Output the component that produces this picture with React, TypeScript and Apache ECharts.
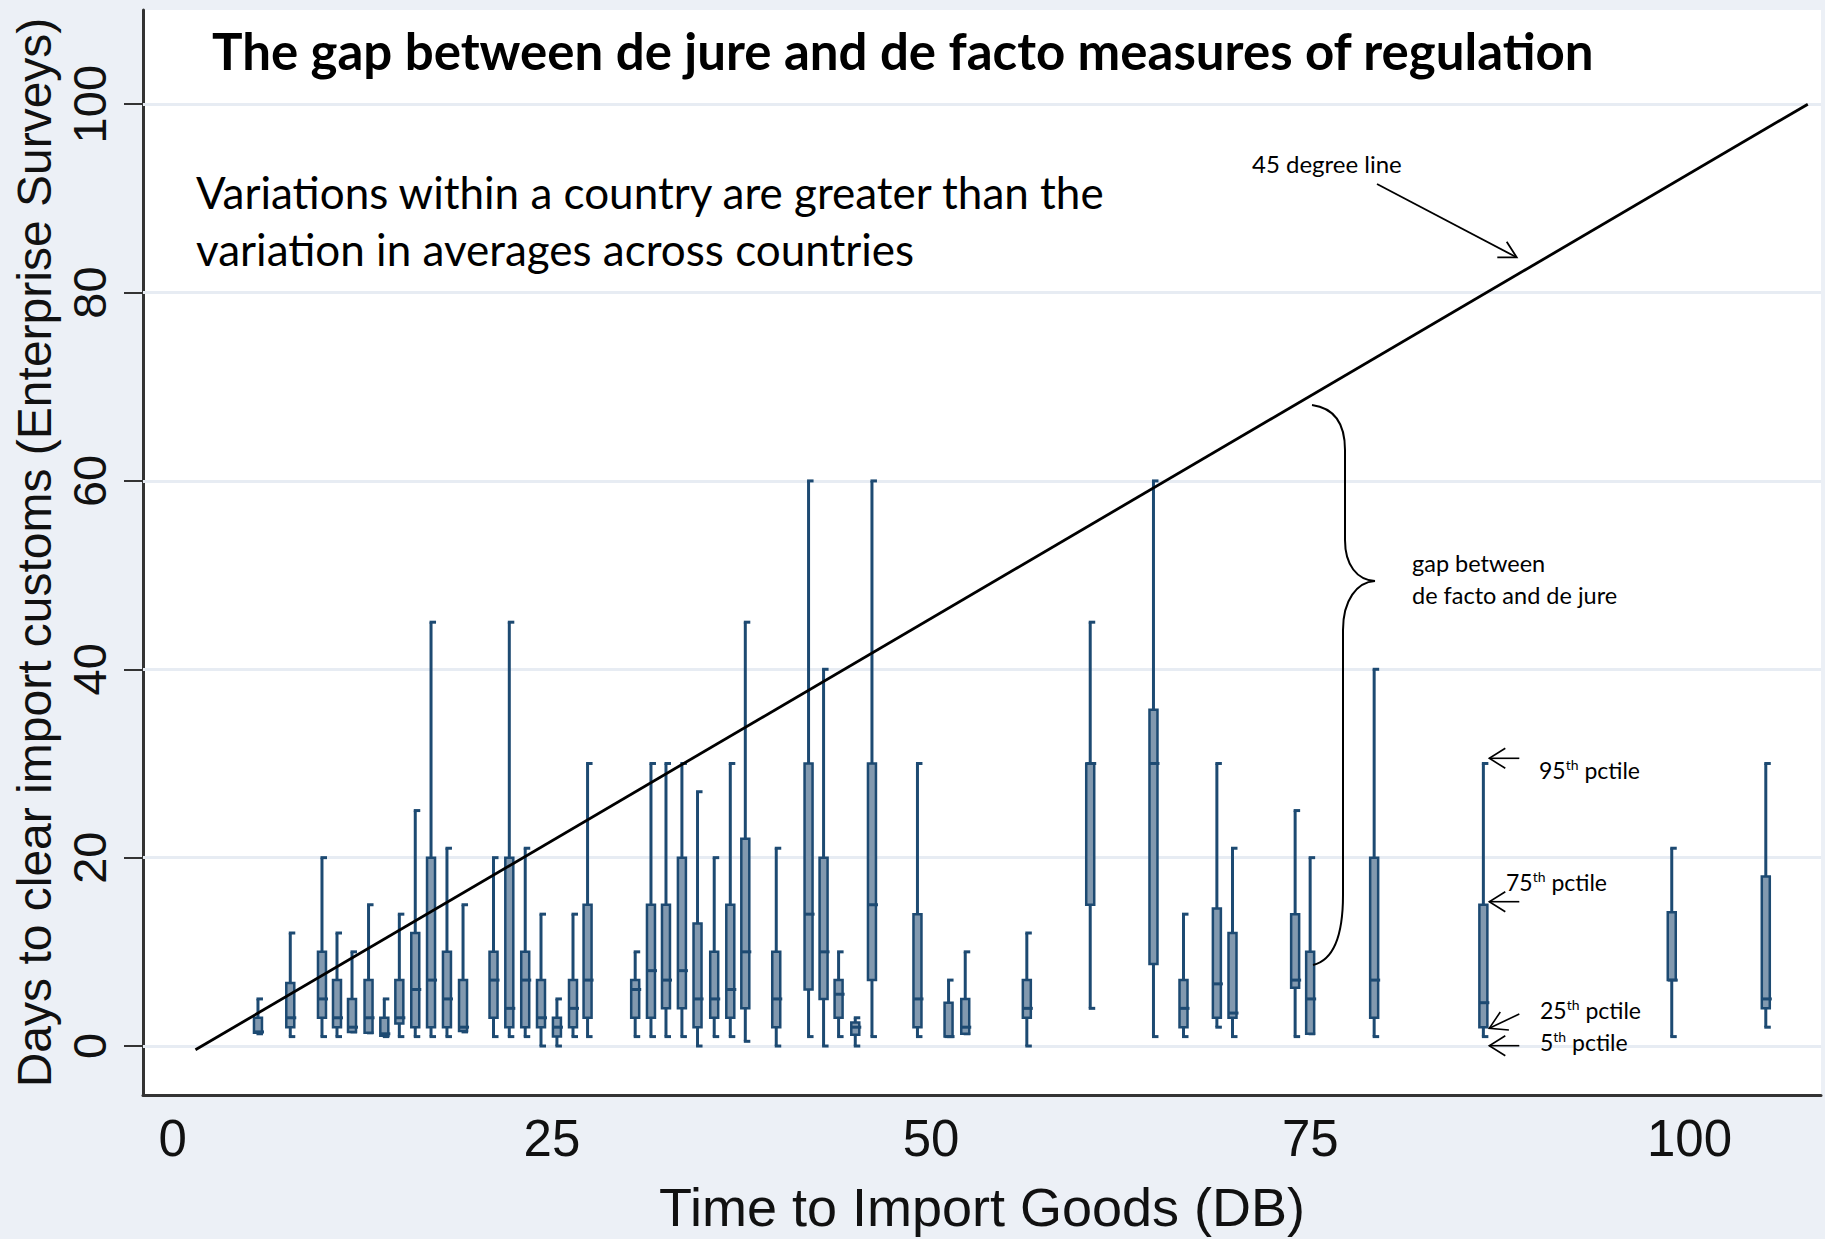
import React, { useEffect, useRef } from "react";
import * as echarts from "echarts";

// ---------- data ----------
const xTicks = [0, 25, 50, 75, 100];
const yTicks = [0, 20, 40, 60, 80, 100];

// x position (Time to Import Goods, DB) of each country's box
const xPositions = [
  5.62, 7.75, 9.84, 10.83, 11.82, 12.91, 13.95, 14.94, 15.99, 17.03, 18.08, 19.14,
  21.15, 22.19, 23.24, 24.28, 25.33, 26.39, 27.35,
  30.49, 31.53, 32.52, 33.57, 34.6, 35.7, 36.76, 37.75, 39.79,
  41.92, 42.91, 43.9, 45.0, 46.1, 49.1, 51.15, 52.25, 56.31,
  60.49, 64.66, 66.64, 68.84, 69.87, 74.0, 74.99, 79.21, 86.41, 98.83, 105.03,
];
// percentiles of days to clear import customs (Enterprise Surveys)
const p5 = [
  1.3, 1, 1, 1, 1.5, 1.4, 1, 1, 1, 1, 1, 1.5,
  1, 1, 1, 0, 0, 1, 1,
  1, 1, 1, 1, 0, 1, 1, 0.5, 0,
  1, 0, 1, 0, 1, 1, 1, 1.3, 0,
  4, 1, 1, 2, 1, 1, 1.3, 1, 1, 1, 2,
];
const p25 = [
  1.4, 2, 3, 2, 1.5, 1.4, 1.1, 2.4, 2, 2, 2, 1.6,
  3, 2, 2, 2, 1, 2, 3,
  3, 3, 4, 4, 2, 3, 3, 4, 2,
  6, 5, 3, 1.2, 7, 2, 1, 1.3, 3,
  15, 8.7, 2, 3, 3, 6.2, 1.3, 3, 2, 7, 4,
];
const p50 = [
  1.5, 3, 5, 3, 2, 3, 1.3, 3, 6, 7, 5, 2,
  7, 4, 7, 3, 2, 4, 7,
  6, 8, 7, 8, 5, 5, 6, 10, 5,
  14, 10, 5.5, 2, 15, 5, 1, 2, 4,
  30, 30, 4, 6.6, 3.5, 7, 5, 7, 4.6, 7, 5,
];
const p75 = [
  3, 6.7, 10, 7, 5, 7, 3, 7, 12, 20, 10, 7,
  10, 20, 10, 7, 3, 7, 15,
  7, 15, 15, 20, 13, 10, 15, 22, 10,
  30, 20, 7, 2.5, 30, 14, 4.6, 5, 7,
  30, 35.7, 7, 14.6, 12, 14, 10, 20, 15, 14.2, 18,
];
const p95 = [
  5, 12, 20, 12, 10, 15, 5, 14, 25, 45, 21, 15,
  20, 45, 21, 14, 5, 14, 30,
  10, 30, 30, 30, 27, 20, 30, 45, 21,
  60, 40, 10, 3, 60, 30, 7, 10, 12,
  45, 60, 14, 30, 21, 25, 20, 40, 30, 21, 30,
];
// the "45 degree line" end points
const diagonal = [
  [1.5, -0.4],
  [107.8, 100],
];

// ---------- styles ----------
const NAVY = "#1D4A72";
const BOX_FILL = "#8299AF";
const BG = "#ECF0F6";
const GRID = "#E7ECF3";
const AXIS = "#333333";
const AXIS_FONT = "'Liberation Sans', Arial, sans-serif";
const ANN_FONT = "Lato, 'Liberation Sans', sans-serif";
const ANN_Z = 100;

const BRACE_D =
  "M0 0 C22 3 33 18 33 45 L33 135 C33 160 45 175 63 176 C45 177 31 195 31 225 L31 490 C31 530 22 555 1 560";

let registered = false;
function registerShapes() {
  if (registered) return;
  registered = true;
  echarts.graphic.registerShape("brace", echarts.graphic.extendPath(BRACE_D, {}) as any);
}

function arrowLeft(xTip: number, y: number, len: number) {
  return [
    { type: "line", z: ANN_Z, shape: { x1: xTip, y1: y, x2: xTip + len, y2: y }, style: { stroke: "#000", lineWidth: 1.6 } },
    {
      type: "polyline",
      z: ANN_Z,
      shape: { points: [[xTip + 16, y - 10], [xTip, y], [xTip + 16, y + 10]] },
      style: { stroke: "#000", lineWidth: 1.6, fill: "none" },
    },
  ];
}

function pctLabel(num: string, x: number, y: number) {
  return {
    type: "text",
    z: ANN_Z,
    x,
    y,
    style: {
      text: `{a|${num}}{s|th}{a| pctile}`,
      verticalAlign: "middle",
      rich: {
        a: { fontSize: 23, fontFamily: ANN_FONT, fill: "#000", lineHeight: 26 },
        s: { fontSize: 14, fontFamily: ANN_FONT, fill: "#000", lineHeight: 14, verticalAlign: "top" },
      },
    },
  };
}

function annText(text: string, x: number, y: number, size: number, bold = false) {
  return {
    type: "text",
    z: ANN_Z,
    x,
    y,
    style: {
      text,
      fontSize: size,
      fontWeight: bold ? "bold" : "normal",
      fontFamily: ANN_FONT,
      fill: "#000",
      verticalAlign: "middle",
    },
  };
}

export default function App() {
  const ref = useRef<HTMLDivElement>(null);

  useEffect(() => {
    document.body.style.margin = "0";
    registerShapes();
    const chart = echarts.init(ref.current!, null, { renderer: "svg" });

    const boxData = xPositions.map((x, i) => [x, p5[i], p25[i], p50[i], p75[i], p95[i]]);

    const option: any = {
      animation: false,
      backgroundColor: BG,
      grid: {
        show: true,
        left: 143,
        top: 10,
        right: 4,
        bottom: 141,
        backgroundColor: "#ffffff",
        borderWidth: 0,
      },
      xAxis: {
        type: "value",
        min: -1.96,
        max: 108.67,
        name: "Time to Import Goods (DB)",
        nameLocation: "middle",
        nameGap: 85,
        nameTextStyle: { fontSize: 54, fontFamily: AXIS_FONT, color: "#111" },
        axisLine: { show: true, onZero: false, lineStyle: { color: AXIS, width: 3 } },
        axisTick: { show: false },
        splitLine: { show: false },
        axisLabel: {
          customValues: xTicks,
          fontSize: 51,
          fontFamily: AXIS_FONT,
          color: "#111",
          margin: 18,
        },
      },
      yAxis: {
        type: "value",
        min: -5.2,
        max: 110,
        name: "Days to clear import customs (Enterprise Surveys)",
        nameLocation: "middle",
        nameRotate: 90,
        nameGap: 84,
        nameTextStyle: { fontSize: 48, fontFamily: AXIS_FONT, color: "#111" },
        axisLine: { show: true, onZero: false, lineStyle: { color: AXIS, width: 3 } },
        axisTick: {
          show: true,
          customValues: yTicks,
          length: 19,
          lineStyle: { color: AXIS, width: 2 },
        },
        splitLine: { show: false },
        axisLabel: {
          customValues: yTicks,
          rotate: 90,
          fontSize: 47,
          fontFamily: AXIS_FONT,
          color: "#111",
          margin: 30,
        },
      },
      series: [
        {
          name: "grid",
          type: "line",
          data: [],
          silent: true,
          z: 1,
          markLine: {
            z: 1,
            silent: true,
            symbol: ["none", "none"],
            label: { show: false },
            lineStyle: { color: GRID, width: 3, type: "solid" },
            data: yTicks.map((v) => ({ yAxis: v })),
          },
        },
        {
          name: "boxes",
          type: "custom",
          z: 6,
          data: boxData,
          encode: { x: 0, y: [1, 2, 3, 4, 5] },
          renderItem: (_params: any, api: any) => {
            const x = api.value(0);
            const [cx, y5] = api.coord([x, api.value(1)]);
            const y25 = api.coord([x, api.value(2)])[1];
            const y50 = api.coord([x, api.value(3)])[1];
            const y75 = api.coord([x, api.value(4)])[1];
            const y95 = api.coord([x, api.value(5)])[1];
            const ws = { stroke: NAVY, lineWidth: 3 };
            return {
              type: "group",
              children: [
                { type: "line", shape: { x1: cx, y1: y5, x2: cx, y2: y95 }, style: ws },
                { type: "line", shape: { x1: cx - 1.5, y1: y95, x2: cx + 5, y2: y95 }, style: ws },
                { type: "line", shape: { x1: cx - 1.5, y1: y5, x2: cx + 5, y2: y5 }, style: ws },
                {
                  type: "rect",
                  shape: { x: cx - 4, y: y75, width: 8, height: Math.max(y25 - y75, 1.5) },
                  style: { fill: BOX_FILL, stroke: NAVY, lineWidth: 2.5 },
                },
                { type: "line", shape: { x1: cx - 4, y1: y50, x2: cx + 6, y2: y50 }, style: ws },
              ],
            };
          },
        },
        {
          name: "45 degree line",
          type: "line",
          z: 7,
          data: diagonal,
          symbol: "none",
          lineStyle: { color: "#000", width: 2.8 },
          silent: true,
        },
      ],
      graphic: [
        annText("The gap between de jure and de facto measures of regulation", 212, 50, 51, true),
        annText("Variations within a country are greater than the", 196, 192, 44),
        annText("variation in averages across countries", 196, 249, 44),
        annText("45 degree line", 1252, 163, 24),
        { type: "line", z: ANN_Z, shape: { x1: 1377, y1: 184, x2: 1516, y2: 257 }, style: { stroke: "#000", lineWidth: 1.8 } },
        {
          type: "polyline",
          z: ANN_Z,
          shape: { points: [[1506.7, 241.7], [1516.7, 257.3], [1497.3, 257.3]] },
          style: { stroke: "#000", lineWidth: 1.8, fill: "none" },
        },
        { type: "brace", z: ANN_Z, x: 1312, y: 405, style: { stroke: "#000", lineWidth: 2, fill: "none" } },
        annText("gap between", 1412, 563, 23.5),
        annText("de facto and de jure", 1412, 595, 23.5),
        ...arrowLeft(1489.3, 758.3, 30),
        ...arrowLeft(1489.3, 901.7, 30),
        ...arrowLeft(1489.3, 1045.7, 30),
        { type: "line", z: ANN_Z, shape: { x1: 1519.3, y1: 1014, x2: 1489.3, y2: 1028.3 }, style: { stroke: "#000", lineWidth: 1.6 } },
        {
          type: "polyline",
          z: ANN_Z,
          shape: { points: [[1500.3, 1012], [1489.3, 1028.3], [1508.9, 1030]] },
          style: { stroke: "#000", lineWidth: 1.6, fill: "none" },
        },
        pctLabel("95", 1539, 770),
        pctLabel("75", 1506, 882),
        pctLabel("25", 1540, 1010),
        pctLabel("5", 1540, 1042),
      ],
    };

    chart.setOption(option);
    return () => chart.dispose();
  }, []);

  return <div ref={ref} style={{ position: "absolute", left: 0, top: 0, width: 1825, height: 1239 }} />;
}
